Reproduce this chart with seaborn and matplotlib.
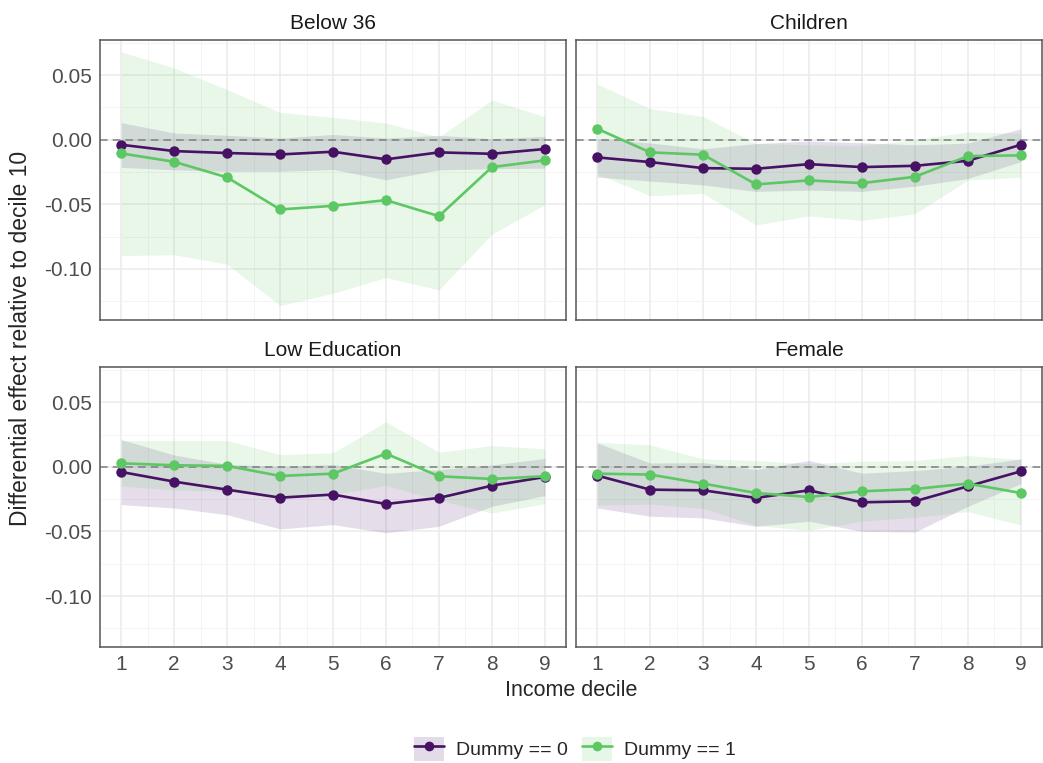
import numpy as np
import pandas as pd
import matplotlib
matplotlib.use("Agg")
import matplotlib.pyplot as plt
import seaborn as sns
from matplotlib.patches import Patch
from matplotlib.lines import Line2D
from matplotlib.legend_handler import HandlerTuple
from matplotlib.ticker import MultipleLocator

deciles = [1, 2, 3, 4, 5, 6, 7, 8, 9]
panels = ["Below 36", "Children", "Low Education", "Female"]
groups = ["Dummy == 0", "Dummy == 1"]

# point estimates and confidence bands
below36_d0 = [-0.0039, -0.0088, -0.0103, -0.0114, -0.0093, -0.0152, -0.0098, -0.0109, -0.0072]
below36_d0_lo = [-0.0214, -0.0233, -0.0245, -0.0245, -0.0230, -0.0310, -0.0233, -0.0225, -0.0220]
below36_d0_hi = [0.0132, 0.0052, 0.0034, 0.0013, 0.0041, 0.0013, 0.0034, 0.0008, 0.0026]
below36_d1 = [-0.0106, -0.0171, -0.0292, -0.0540, -0.0512, -0.0468, -0.0592, -0.0212, -0.0160]
below36_d1_lo = [-0.0897, -0.0891, -0.0964, -0.1284, -0.1189, -0.1067, -0.1163, -0.0731, -0.0504]
below36_d1_hi = [0.0680, 0.0556, 0.0388, 0.0212, 0.0173, 0.0129, 0.0021, 0.0307, 0.0178]

children_d0 = [-0.0137, -0.0173, -0.0220, -0.0225, -0.0189, -0.0212, -0.0202, -0.0163, -0.0039]
children_d0_lo = [-0.0290, -0.0320, -0.0350, -0.0400, -0.0390, -0.0400, -0.0360, -0.0300, -0.0170]
children_d0_hi = [0.0010, -0.0026, -0.0070, -0.0030, -0.0010, -0.0024, -0.0040, -0.0026, 0.0085]
children_d1 = [0.0085, -0.0098, -0.0116, -0.0346, -0.0315, -0.0336, -0.0287, -0.0127, -0.0121]
children_d1_lo = [-0.0265, -0.0434, -0.0415, -0.0660, -0.0590, -0.0625, -0.0574, -0.0312, -0.0290]
children_d1_hi = [0.0432, 0.0240, 0.0180, -0.0030, -0.0040, -0.0047, 0.0000, 0.0060, 0.0050]

lowedu_d0 = [-0.0039, -0.0114, -0.0176, -0.0238, -0.0214, -0.0287, -0.0240, -0.0145, -0.0078]
lowedu_d0_lo = [-0.0292, -0.0318, -0.0370, -0.0480, -0.0447, -0.0510, -0.0460, -0.0305, -0.0222]
lowedu_d0_hi = [0.0212, 0.0092, 0.0020, 0.0004, 0.0019, -0.0050, -0.0020, 0.0015, 0.0066]
lowedu_d1 = [0.0028, 0.0013, 0.0008, -0.0070, -0.0052, 0.0103, -0.0072, -0.0093, -0.0072]
lowedu_d1_lo = [-0.0148, -0.0178, -0.0188, -0.0236, -0.0213, -0.0143, -0.0258, -0.0357, -0.0284]
lowedu_d1_hi = [0.0204, 0.0204, 0.0204, 0.0096, 0.0109, 0.0349, 0.0114, 0.0165, 0.0140]

female_d0 = [-0.0067, -0.0176, -0.0181, -0.0240, -0.0181, -0.0274, -0.0266, -0.0150, -0.0034]
female_d0_lo = [-0.0318, -0.0382, -0.0395, -0.0460, -0.0420, -0.0499, -0.0504, -0.0305, -0.0130]
female_d0_hi = [0.0186, 0.0030, 0.0033, -0.0020, 0.0050, -0.0049, -0.0028, 0.0005, 0.0062]
female_d1 = [-0.0052, -0.0059, -0.0129, -0.0202, -0.0233, -0.0189, -0.0171, -0.0129, -0.0202]
female_d1_lo = [-0.0295, -0.0288, -0.0320, -0.0453, -0.0491, -0.0420, -0.0390, -0.0346, -0.0450]
female_d1_hi = [0.0191, 0.0170, 0.0062, 0.0049, 0.0025, 0.0044, 0.0049, 0.0088, 0.0057]

series = {
    "Below 36": [(below36_d0, below36_d0_lo, below36_d0_hi), (below36_d1, below36_d1_lo, below36_d1_hi)],
    "Children": [(children_d0, children_d0_lo, children_d0_hi), (children_d1, children_d1_lo, children_d1_hi)],
    "Low Education": [(lowedu_d0, lowedu_d0_lo, lowedu_d0_hi), (lowedu_d1, lowedu_d1_lo, lowedu_d1_hi)],
    "Female": [(female_d0, female_d0_lo, female_d0_hi), (female_d1, female_d1_lo, female_d1_hi)],
}

rows = []
for p in panels:
    for g, (est, lo, hi) in zip(groups, series[p]):
        for d, e, l, h in zip(deciles, est, lo, hi):
            rows.append({"panel": p, "group": g, "decile": d, "est": e, "lo": l, "hi": h})
df = pd.DataFrame(rows)

colors = {"Dummy == 0": "#471164", "Dummy == 1": "#5DC863"}

sns.set_theme(style="white")
plt.rcParams["font.family"] = ["Liberation Sans", "DejaVu Sans"]

fig, axes = plt.subplots(2, 2, figsize=(10.43, 7.63), dpi=100, sharex=True, sharey=True)
fig.subplots_adjust(left=0.096, right=0.999, top=0.948, bottom=0.152, wspace=0.0215, hspace=0.168)

for ax, p in zip(axes.flat, panels):
    sub = df[df.panel == p]
    ax.set_axisbelow(True)
    ax.grid(which="major", color="#EBEBEB", linewidth=1.1)
    ax.grid(which="minor", color="#F2F2F2", linewidth=0.6)
    for g in groups:
        s = sub[sub.group == g]
        ax.fill_between(s.decile, s.lo, s.hi, color=colors[g], alpha=0.14, linewidth=0)
    ax.axhline(0, color="#7F7F7F", linestyle=(0, (5, 3.3)), linewidth=1.1, zorder=1.5)
    sns.lineplot(data=sub, x="decile", y="est", hue="group", palette=colors, marker="o",
                 markersize=7.5, markeredgewidth=0, linewidth=1.9, ax=ax, legend=False, zorder=3)
    ax.set_title(p, fontsize=15, color="#1A1A1A", pad=8)
    ax.set_xlim(0.6, 9.4)
    ax.set_ylim(-0.1395, 0.0775)
    ax.set_xticks(deciles)
    ax.xaxis.set_minor_locator(MultipleLocator(0.5))
    ax.set_yticks([-0.10, -0.05, 0.00, 0.05])
    ax.yaxis.set_minor_locator(MultipleLocator(0.025))
    ax.set_yticklabels(["-0.10", "-0.05", "0.00", "0.05"])
    ax.tick_params(which="both", length=0, labelsize=15, labelcolor="#4D4D4D", pad=6)
    ax.set_xlabel("")
    ax.set_ylabel("")
    for sp in ax.spines.values():
        sp.set_visible(True)
        sp.set_color("#555555")
        sp.set_linewidth(1.1)

fig.text(0.548, 1 - 690 / 763, "Income decile", ha="center", va="center", fontsize=15.5)
fig.text(0.02, 0.557, "Differential effect relative to decile 10", ha="center", va="center",
         rotation=90, fontsize=16.5)

handles = []
for g in groups:
    bg = Patch(facecolor=colors[g], alpha=0.15, edgecolor="none")
    ln = Line2D([], [], color=colors[g], marker="o", markersize=7, linewidth=1.9, markeredgewidth=0)
    handles.append((bg, ln))
fig.legend(handles, groups, handler_map={tuple: HandlerTuple(ndivide=1, pad=0)},
           loc="center", bbox_to_anchor=(0.551, 1 - 749 / 763), ncol=2, frameon=False,
           fontsize=14, handlelength=1.55, handleheight=1.45, columnspacing=0.72, handletextpad=0.62,
           borderpad=0.1)

fig.savefig("out.png", dpi=100)
